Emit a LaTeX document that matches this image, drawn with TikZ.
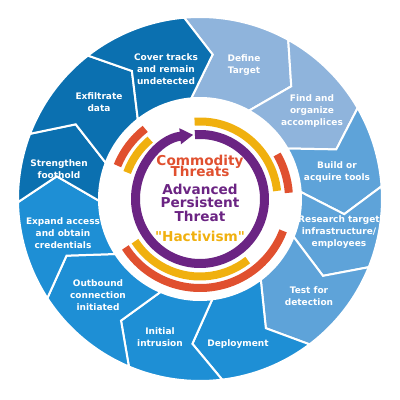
\documentclass[tikz,border=0pt]{standalone}
\usepackage{fontspec}
\newfontfamily\dejavu{DejaVu Sans}
\usetikzlibrary{arrows.meta}

\definecolor{paleblue}{HTML}{8FB4DC}
\definecolor{midblue}{HTML}{5EA3D9}
\definecolor{brightblue}{HTML}{1E8FD5}
\definecolor{deepblue}{HTML}{0B70B0}
\definecolor{ringred}{HTML}{E0502F}
\definecolor{ringyellow}{HTML}{F0B00F}
\definecolor{ringpurple}{HTML}{6B2483}

% #1 leading angle, #2 trailing angle, #3 colour
\newcommand{\Segment}[3]{%
	\filldraw[fill=#3, draw=white, line width=0.5mm]
		(#2:182) arc[start angle=#2, end angle=#1, radius=182]
		-- ({#1-10}:145) -- (#1:101)
		arc[start angle=#1, end angle=#2, radius=101]
		-- ({#2-10}:145) -- cycle;}

\tikzset{
	segtext/.style = {text=white, align=center, inner sep=0pt,
		font=\dejavu\fontsize{6.4}{8.5}\selectfont\bfseries},
	coretext/.style = {anchor=base, inner sep=0pt,
		font=\dejavu\fontsize{9.7}{10}\selectfont\bfseries},
	band/.style = {line width=2mm}
}

\begin{document}
\begin{tikzpicture}[x=0.25mm, y=0.25mm]
		
		\useasboundingbox (-200,-201) rectangle (200,199);
		
		\Segment{61}{95}{paleblue}
		\Segment{30}{61}{paleblue}
		\Segment{4}{30}{midblue}
		\Segment{-22}{4}{midblue}
		\Segment{-53}{-22}{midblue}
		\Segment{-83}{-53}{brightblue}
		\Segment{-113}{-83}{brightblue}
		\Segment{-147}{-113}{brightblue}
		\Segment{-179}{-147}{brightblue}
		\Segment{-201}{-179}{deepblue}
		\Segment{-232}{-201}{deepblue}
		\Segment{-265}{-232}{deepblue}
		
		\node[segtext] (S1) at (44,134) {Define\\Target};
		\node[segtext] (S2) at (112,88) {Find and\\organize\\accomplices};
		\node[segtext] (S3) at (137,27) {Build or\\acquire tools};
		\node[segtext] (S4) at (139,-33) {Research target\\infrastructure/\\employees};
		\node[segtext] (S5) at (109,-97) {Test for\\detection};
		\node[segtext] (S6) at (38,-145) {Deployment};
		\node[segtext] (S7) at (-40,-138) {Initial\\intrusion};
		\node[segtext] (S8) at (-102,-96) {Outbound\\connection\\initiated};
		\node[segtext] (S9) at (-137,-34) {Expand access\\and obtain\\credentials};
		\node[segtext] (S10) at (-141,30) {Strengthen\\foothold};
		\node[segtext] (S11) at (-101,97) {Exfiltrate\\data};
		\node[segtext] (S12) at (-34,130) {Cover tracks\\and remain\\undetected};
		
		\draw[ringpurple, line width=2.25mm, -{Triangle[length=3.3mm, width=3.8mm]}]
			(94.5:64.5) arc[start angle=94.5, end angle=-264, radius=64.5];
		
		\draw[ringyellow, band] (130:77.5) arc[start angle=130, end angle=160, radius=77.5];
		\draw[ringyellow, band] (6:77.5) arc[start angle=6, end angle=94, radius=77.5];
		\draw[ringyellow, band] (213:77.5) arc[start angle=213, end angle=308, radius=77.5];
		\draw[ringred, band] (128:89) arc[start angle=128, end angle=158, radius=89];
		\draw[ringred, band] (4:89) arc[start angle=4, end angle=30, radius=89];
		\draw[ringred, band] (213:89) arc[start angle=213, end angle=339, radius=89];
		
		\node[coretext, text=ringred] (C1) at (0,34) {Commodity};
		\node[coretext, text=ringred] (C2) at (0,22.5) {Threats};
		\node[coretext, text=ringpurple] (A1) at (0,5) {Advanced};
		\node[coretext, text=ringpurple] (A2) at (0,-8.3) {Persistent};
		\node[coretext, text=ringpurple] (A3) at (0,-22) {Threat};
		\node[coretext, text=ringyellow] (H1) at (0,-42.7) {"Hactivism"};
		
	\end{tikzpicture}
\end{document}
